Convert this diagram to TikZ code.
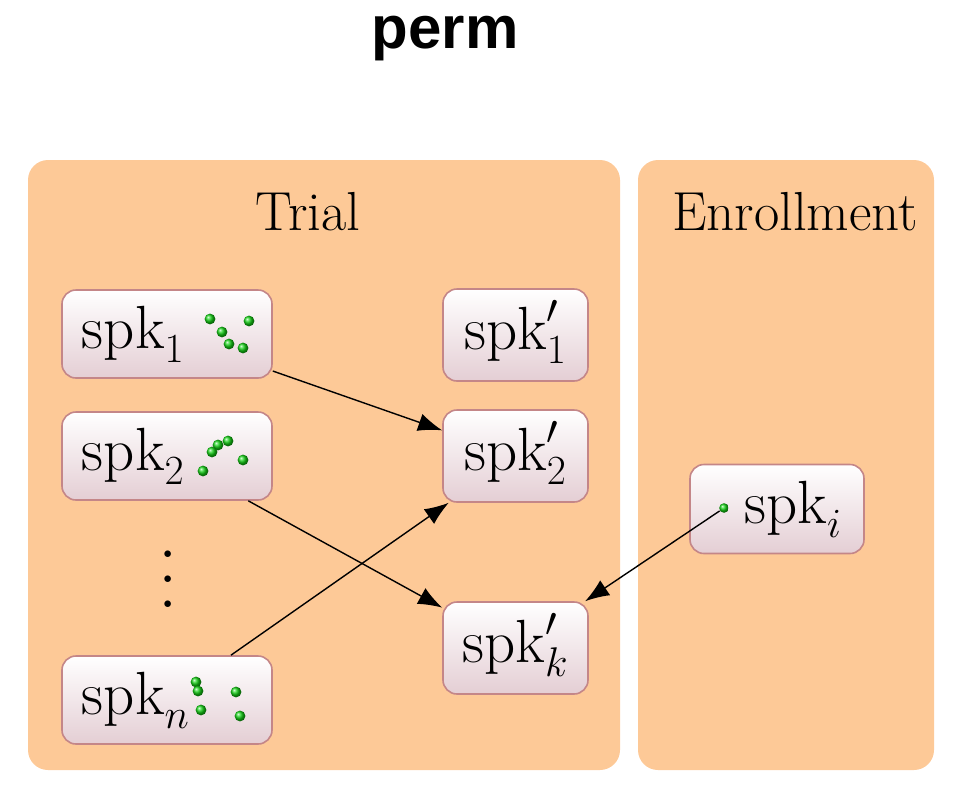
\documentclass[tikz,border=0pt]{standalone}
\usepackage{amsmath,amssymb}
\usepackage{fontspec}
\usepackage{tikz}
\usetikzlibrary{arrows.meta,positioning,shadings}
\newfontfamily\titlefont{Liberation Sans}
\definecolor{panelorange}{RGB}{253,201,151}
\definecolor{boxborder}{RGB}{196,134,136}
\definecolor{boxpink}{RGB}{228,206,212}
\definecolor{dotgreen}{RGB}{20,210,20}

\begin{document}
\begin{tikzpicture}[
        x=0.5pt, y=-0.5pt,
        panel/.style={fill=panelorange, rounded corners=10pt},
        panellabel/.style={anchor=base, font=\fontsize{27.5}{32}\selectfont},
        spkbox/.style={rectangle, rounded corners=7pt, draw=boxborder, line width=0.8pt,
            top color=white, bottom color=boxpink, inner sep=0pt,
            text height=21pt, text depth=6.5pt, font=\fontsize{30.5}{36}\selectfont},
        leftbox/.style={spkbox, minimum height=44pt, text width=85pt, align=left, inner xsep=10pt},
        permbox/.style={spkbox, minimum height=46pt, minimum width=72.5pt},
        gdot/.style={circle, inner sep=0pt, minimum size=#1, shading=ball, ball color=dotgreen},
        gdot/.default=5.4pt,
        arrow/.style={-{Latex[length=12pt,width=9pt]}, line width=0.7pt}
    ]
        \useasboundingbox (0,0) rectangle (960,794);
        \node[anchor=base, inner sep=0pt, font=\titlefont\bfseries\fontsize{30}{34}\selectfont] (title) at (445,48) {perm};

        % panels
        \fill[panel] (28,160) rectangle (620,770);
        \fill[panel] (638,160) rectangle (934,770);
        \node[panellabel] (trial) at (308,230) {Trial};
        \node[panellabel] (enroll) at (795,230) {Enrollment};

        % trial speakers
        \node[leftbox] (spk1) at (167,334) {$\mathrm{spk}_1$};
        \node[leftbox] (spk2) at (167,456) {$\mathrm{spk}_2$};
        \node[leftbox] (spkn) at (167,700) {$\mathrm{spk}_n$};
        \node[scale=3.1, anchor=base, inner sep=0pt] (vdots) at (168,607) {$\vdots$};

        % permuted speakers
        \node[permbox] (spk1p) at (515.5,335) {$\mathrm{spk}'_1$};
        \node[permbox] (spk2p) at (515.5,456) {$\mathrm{spk}'_2$};
        \node[permbox] (spkkp) at (515.5,648) {$\mathrm{spk}'_k$};

        % enrollment speaker
        \node[spkbox, minimum height=44.5pt, text width=65pt, align=right, inner xsep=11pt] (spki) at (777,509) {$\mathrm{spk}_i$};
        \node[gdot=4.8pt] (doti) at (724,508) {};

        % embeddings
        \foreach \x/\y in {210/319, 249/321, 222/332, 229/344, 243/348,
                           228/441, 218/445, 212/452, 203/471, 243/460,
                           196/682, 198/691, 201/710, 236/692, 240/716}
            \node[gdot] at (\x,\y) {};

        \draw[arrow] (spk1) -- (spk2p);
        \draw[arrow] (spk2) -- (spkkp);
        \draw[arrow] (spkn) -- (spk2p);
        \draw[arrow] (doti) -- (spkkp);
    \end{tikzpicture}
\end{document}
